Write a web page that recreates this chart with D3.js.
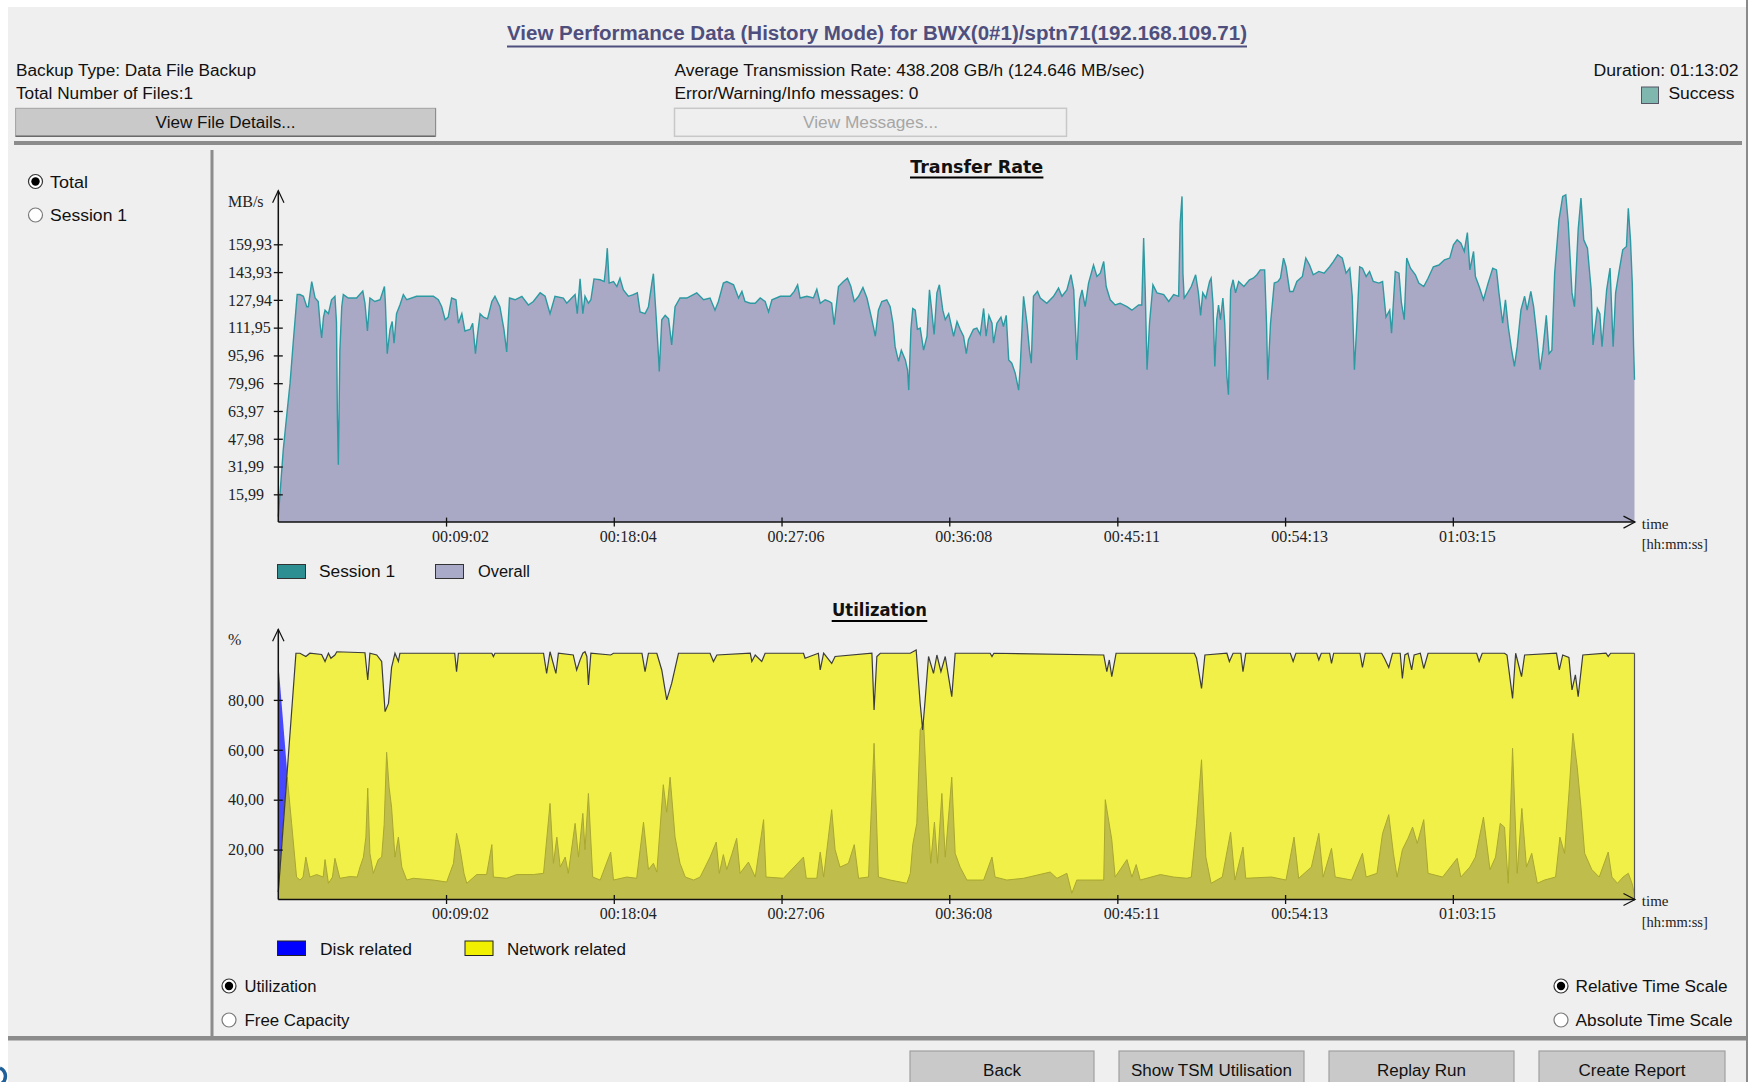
<!DOCTYPE html>
<html><head><meta charset="utf-8">
<script src="https://cdn.jsdelivr.net/npm/d3@7"></script>
<style>
body{margin:0;background:#fff;}
svg{display:block;font-family:"Liberation Sans",Arial,sans-serif;}
</style>
</head><body><svg id="c" width="1751" height="1082"></svg>
<script>
// ---------------- DATA ----------------
const durationSec = 4382; // 01:13:02
const xTickSeconds = [542, 1084, 1626, 2168, 2711, 3253, 3795];
const xTickLabels = ["00:09:02","00:18:04","00:27:06","00:36:08","00:45:11","00:54:13","01:03:15"];
const rateTicks = [15.99,31.99,47.98,63.97,79.96,95.96,111.95,127.94,143.93,159.93];
const rateTickLabels = ["15,99","31,99","47,98","63,97","79,96","95,96","111,95","127,94","143,93","159,93"];
const utilTicks = [20,40,60,80];
const utilTickLabels = ["20,00","40,00","60,00","80,00"];

// Transfer rate, MB/s  [seconds, value]  (Session 1 == Overall)
const transferRate = [
[0,3],[5,15],[16,41.6],[27,61],[38,80],[48,103],[54,116],[61,131],[70,131],[81,130],[92,124],[97,124],[108,138.5],[119,129],[129,127],[135,114],[140,106],[146,118],[151,122],[162,120],[172,128],[183,130],[188,115],[191,60],[194,33],[199,99],[205,124],[210,131],[226,129],[253,129],[273,133],[280,126],[288,110],[296,129],[312,127],[329,128],[343,135.6],[346,126],[352,97],[361,111],[368,115.5],[374,103],[382,120],[393,125],[404,131],[415,128],[447,130],[501,130],[517,128],[528,124],[539,116.5],[549,118],[560,129],[574,128],[582,114.5],[593,120],[603,110],[620,111],[628,114.5],[637,97],[643,107],[652,120],[663,118],[676,117],[690,127],[700,130],[716,124],[729,111],[738,98],[747,129],[765,128],[787,130],[808,125],[824,127],[846,132],[862,130],[878,120],[894,130],[921,129],[932,126],[948,129],[959,131],[966,120],[975,140],[984,120],[991,130],[1002,126],[1010,128],[1020,140],[1040,139.5],[1053,138.5],[1059,148],[1063,157.7],[1069,137.6],[1083,138.5],[1094,135.6],[1104,140.4],[1115,133.7],[1131,130],[1147,131],[1160,132],[1169,121],[1185,120],[1196,124],[1207,137.6],[1212,143],[1221,118],[1228,97],[1231,86.7],[1239,116.5],[1250,119],[1261,117],[1271,102],[1282,124],[1298,129],[1320,129],
[1352,132],[1374,128],[1395,129],[1411,122],[1422,127],[1438,137.6],[1449,138.5],[1471,136.6],[1487,129],[1498,132.8],[1508,127],[1525,126],[1541,126],[1557,129],[1573,127],[1584,121],[1595,128],[1622,130],[1654,130],[1667,132.8],[1678,136.6],[1686,129],[1708,130],[1729,129],[1740,134],[1751,126],[1767,128],[1781,127],[1788,126],[1796,113.6],[1810,135.6],[1826,138.5],[1839,140.4],[1850,135.6],[1861,127],[1875,130],[1889,135],[1902,129],[1918,116.5],[1929,107],[1939,122],[1950,127],[1966,128],[1977,124],[1986,114.5],[1993,101],[2004,92.5],[2013,99],[2026,93.4],[2033,87.7],[2037,76],[2044,111],[2050,123],[2058,122],[2065,111],[2074,111.7],[2085,99],[2096,107],[2104,133.7],[2110,124],[2119,108],[2128,132],[2136,136.6],[2147,122],[2155,116.5],[2166,120],[2182,107],[2193,115.5],[2203,111],[2214,107],[2223,97],[2230,105],[2246,111],[2257,111.7],[2268,108],[2279,123],[2287,107],[2296,119],[2306,114.5],[2311,103],[2322,114.5],[2335,118],[2343,112.6],[2352,119],[2360,93.4],[2370,91.5],[2381,85.8],[2392,76],[2397,88.6],[2408,130],[2419,114.5],[2427,99],[2433,91.5],[2440,130],[2453,132.8],[2462,129],[2483,126],[2505,130],[2521,134.7],[2532,130],[2548,133.7],[2561,142.4],[2570,133.7],[2580,93.4],[2589,128],[2597,133.7],[2607,124],[2618,137.6],[2634,148],[2645,141.4],[2656,143.3],[2667,150],[2675,135.6],[2688,128],[2704,125],[2720,126],[2742,124],[2758,122],[2780,125],[2790,125],[2796,163.5],[2801,133.7],[2807,87.7],[2815,114.5],[2826,136.6],[2839,132],[2861,131],[2877,127],[2893,131],[2909,130],[2914,172],[2920,187.5],[2923,143],[2927,129],
[2938,132],[2950,135.6],[2964,142.4],[2973,132],[2980,119],[2987,132],[2997,129],[3009,138.5],[3014,140.4],[3020,126],[3026,89.6],[3032,116.5],[3038,125],[3044,116.5],[3052,129],[3058,114.5],[3065,83.8],[3070,73.3],[3077,133.7],[3085,139.5],[3093,132],[3103,138.5],[3120,135.6],[3138,139.5],[3150,140.4],[3162,142.4],[3173,145.2],[3187,145.2],[3193,114.5],[3197,81.9],[3206,114.5],[3218,137.6],[3230,138.5],[3238,140.4],[3248,152],[3256,147],[3268,132.8],[3279,132.8],[3291,138.5],[3309,141.4],[3320,152],[3332,148],[3344,142.4],[3362,144.3],[3379,143.3],[3397,147],[3409,150],[3423,153.9],[3438,152],[3450,143.3],[3462,146.2],[3470,130],[3477,87.7],[3485,114.5],[3494,147],[3503,146.2],[3515,141.4],[3526,144.3],[3538,138.5],[3556,137.6],[3568,138.5],[3579,118],[3591,122],[3597,108.8],[3609,144.3],[3621,143.3],[3629,126],[3638,116.5],[3646,152],[3658,146.2],[3674,142.4],[3685,137.6],[3701,135.6],[3715,140.4],[3732,147],[3750,148],[3768,151],[3785,152],[3797,159.6],[3809,162.5],[3821,160.6],[3832,155.8],[3842,166.7],[3850,145.2],[3862,155.8],[3868,141.4],[3880,135.6],[3894,128],[3909,137.6],[3924,146.2],[3936,145.2],[3944,132],[3956,114.5],[3965,128],[3974,112.6],[3985,99],[3994,89.6],[4003,101],[4015,122],[4027,130],[4035,122],[4047,132.8],[4056,124],[4068,105],[4077,87.7],[4086,99],[4097,119],[4106,97],[4115,99],[4124,143.3],[4138,174],[4150,187.5],[4160,188.4],[4168,172],[4180,132],[4188,124],[4200,168.3],[4209,186.5],[4218,162.5],[4230,157.7],[4242,133.7],[4248,102],[4262,123],[4270,120],[4277,101],[4292,133.7],[4303,146.2],[4313,101],[4321,132],[4333,145.2],[4344,156.8],[4356,158.7],[4362,180.7],[4369,162.5],[4375,136.6],[4379,101],[4382,82]
];

// Utilization, %  [seconds, value]
const diskRelated = [[0,95],[28,52],[31,0]];
const networkRelated = [
[0,3],[28,50],[57,98.7],[70,98.7],[89,97.4],[102,98.7],[140,98.2],[151,95.4],[162,98.7],[170,96.7],[183,98],[189,99.3],[280,98.9],[289,88],[296,98.7],[318,98],[334,95.4],[345,75.3],[356,78.6],[366,93],[377,98.7],[388,95.4],[393,98.7],[570,98.7],[576,91.3],[582,98.7],[690,98.7],[695,97.4],[700,98.7],[857,98.7],[867,90.6],[878,99.3],[897,90.6],[905,98.7],[953,98],[964,92],[975,96],[984,98.7],[991,99.3],[997,97.4],[1002,86],[1010,98.7],[1074,98],[1083,98.7],[1175,98.7],[1185,91.3],[1196,98.7],[1223,98.7],[1239,92],[1255,80],[1271,86.6],[1293,98.7],[1395,98.7],[1406,95.4],[1417,98],[1525,98.7],[1530,95.4],[1541,98],[1562,95.4],[1573,98.7],[1697,98.7],[1702,96.7],[1745,98.7],[1751,92],[1762,98.7],[1788,94.6],[1799,97.4],[1918,98.7],[1925,76],[1934,97.4],[1945,98.7],[2042,98.7],[2061,100],[2074,78.6],[2082,68],[2090,80],[2101,97.4],[2117,90.6],[2128,98],[2141,91.3],[2155,97.4],[2176,81.3],[2187,98.7],[2300,98.7],[2306,97.4],[2312,98.7],[2667,98],[2677,91.3],[2685,96],[2693,89.3],[2707,98.7],[2960,98.7],[2967,96.7],[2983,84.6],[2994,98],[3065,98.7],[3073,95.4],[3085,98.7],[3110,98.7],[3117,91.3],[3126,98.7],[3270,98.7],[3279,95.4],[3288,98.7],[3355,98.7],[3362,96],[3370,98.7],[3397,98.7],[3403,94.6],[3410,98.7],[3495,98.7],[3503,93],[3512,98.7],[3565,98.7],[3574,96.7],[3588,93],[3600,98.7],[3625,98.7],[3632,88.6],[3640,98],[3650,98.7],[3662,92],[3670,98],[3690,98.7],[3701,92.6],[3715,98.7],[3872,98.7],[3880,95.4],[3890,98.7],[3962,98.7],[3970,98],[3988,80.6],[3998,98.7],[4017,89.3],[4027,98],[4130,98.7],[4139,92],[4150,98],[4170,97],[4180,84],[4191,90],[4200,81.3],[4215,98],[4290,98.7],[4297,97.4],[4305,98.7],[4382,98.7]
];
// darker lower band inside the network area
const lowerBand = [
[0,3],[29,49],[43,30.5],[59,9],[70,7.8],[80,9],[89,17],[102,9],[124,10],[145,9],[151,16],[162,6.5],[175,9],[183,16.5],[199,8.5],[232,9.2],[255,9],[264,13],[275,17],[283,25],[289,44.6],[296,18.5],[307,10.5],[323,16],[334,17],[342,30],[350,59],[358,45],[366,37],[377,17],[388,25],[399,13],[415,7.8],[436,8.5],[501,7.8],[544,7],[566,14.5],[576,26.5],[587,20.5],[600,10.5],[609,6.5],[641,10],[673,10],[690,22],[695,9],[738,8.5],[770,10],[824,10],[857,10.5],[878,38.5],[889,14.5],[900,25],[911,13],[927,17],[937,10.5],[959,30.5],[970,17],[984,34.5],[991,20],[1002,42.5],[1016,9],[1040,7.8],[1074,19],[1083,7.8],[1126,9],[1158,8.5],[1180,31],[1196,12],[1212,14.5],[1223,11],[1244,46],[1255,35],[1266,49],[1282,25],[1298,14.5],[1315,9],[1342,7.8],[1363,9],[1395,17],[1415,23],[1425,10.5],[1438,18],[1449,12],[1465,18],[1481,24.5],[1492,10.5],[1519,15],[1541,9],[1568,32],[1576,9],[1632,8.5],[1697,17],[1706,8.5],[1740,8.5],[1751,19],[1762,9],[1788,36],[1799,20],[1815,13],[1842,14.5],[1861,22],[1875,8.5],[1907,9],[1925,62.6],[1939,9],[1977,7.8],[2031,6.5],[2042,10.5],[2050,22],[2063,30.5],[2074,68],[2085,70.6],[2098,37],[2108,14.5],[2120,31],[2130,14.5],[2144,42.5],[2155,17],[2176,49],[2187,18.5],[2203,13],[2225,7.8],[2279,7.8],[2306,17],[2316,9],[2354,7.8],[2408,8.5],[2494,11],[2516,8.5],[2548,10.5],[2564,2.5],[2580,7.8],[2667,7.8],[2672,40],[2693,24],[2704,9],[2742,16],[2758,9],[2772,14],[2785,7.8],[2850,10],[2893,9],[2936,8.5],[2950,9],[2967,30.5],[2983,56],[2997,17],[3014,6.5],[3050,9],[3077,27],[3091,7.8],[3117,21],[3126,8.5],[3209,9],[3256,7.8],[3282,25],[3297,8.5],[3338,13],[3362,26.5],[3376,9],[3403,20.5],[3415,9],[3468,7.8],[3503,18.5],[3515,9],[3550,10.5],[3568,26.5],[3588,34],[3603,18.5],[3615,9],[3632,20],[3650,24.5],[3665,29],[3680,22.5],[3701,32],[3715,10.5],[3762,9],[3809,16.5],[3821,9],[3850,13],[3868,17],[3894,33],[3915,12],[3933,17],[3948,30.5],[3962,29],[3974,6.5],[3988,60.6],[4003,10.5],[4018,36.5],[4033,13],[4050,18.5],[4068,6.5],[4091,7.8],[4127,9],[4141,25],[4156,18.5],[4171,44],[4183,66.6],[4197,53],[4209,37],[4221,18.5],[4244,12],[4268,9],[4297,19],[4309,9],[4327,6.5],[4345,9],[4362,10.5],[4374,6.5],[4382,2]
];

// ---------------- DRAW ----------------
const svg = d3.select('#c');
const BG = '#efefef';
svg.append('rect').attr('x',8).attr('y',7).attr('width',1738).attr('height',1075).attr('fill',BG);
svg.append('line').attr('x1',1747).attr('x2',1747).attr('y1',0).attr('y2',1082).attr('stroke','#8a8a8a').attr('stroke-width',2);

function txt(x,y,s,opt={}){
  const t = svg.append('text').attr('x',x).attr('y',y).text(s)
    .attr('font-size',opt.size||16).attr('fill',opt.fill||'#111')
    .attr('text-anchor',opt.anchor||'start');
  if(opt.weight) t.attr('font-weight',opt.weight);
  if(opt.family) t.attr('font-family',opt.family);
  if(opt.len) t.attr('textLength',opt.len).attr('lengthAdjust','spacingAndGlyphs');
  return t;
}
function radio(cx,cy,sel){
  svg.append('circle').attr('cx',cx).attr('cy',cy).attr('r',7).attr('fill','#fff')
    .attr('stroke',sel?'#333':'#7a7a7a').attr('stroke-width',1.2);
  if(sel) svg.append('circle').attr('cx',cx).attr('cy',cy).attr('r',4.2).attr('fill','#000');
}
function button(x,y,w,h,label,len,disabled){
  if(disabled){
    svg.append('rect').attr('x',x).attr('y',y).attr('width',w).attr('height',h)
      .attr('fill',BG).attr('stroke','#c8c8c8').attr('stroke-width',1.5);
  } else {
    svg.append('rect').attr('x',x).attr('y',y).attr('width',w).attr('height',h)
      .attr('fill','#c9c9c9').attr('stroke','#a2a2a2').attr('stroke-width',1);
    svg.append('line').attr('x1',x).attr('x2',x+w).attr('y1',y+h).attr('y2',y+h).attr('stroke','#6a6a6a').attr('stroke-width',1.5);
    svg.append('line').attr('x1',x+w).attr('x2',x+w).attr('y1',y).attr('y2',y+h).attr('stroke','#8a8a8a').attr('stroke-width',1);
  }
  txt(x+w/2, y+20, label, {anchor:'middle', len:len, fill: disabled?'#a6a6a6':'#111'});
}

// Title
txt(877, 40, 'View Performance Data (History Mode) for BWX(0#1)/sptn71(192.168.109.71)',
  {anchor:'middle', size:20, weight:'bold', fill:'#4f4f7e', len:740});
svg.append('line').attr('x1',507).attr('x2',1247).attr('y1',46.5).attr('y2',46.5).attr('stroke','#4f4f7e').attr('stroke-width',2);

// Header info
txt(16,75.5,'Backup Type:  Data File Backup',{len:240});
txt(16,98.5,'Total Number of Files:1',{len:177});
txt(674.5,75.5,'Average Transmission Rate:  438.208 GB/h (124.646 MB/sec)',{len:470});
txt(674.5,98.5,'Error/Warning/Info messages: 0',{len:244});
txt(1738.6,75.5,'Duration:  01:13:02',{anchor:'end',len:145});
svg.append('rect').attr('x',1641.5).attr('y',87).attr('width',17).attr('height',16.5).attr('fill','#7fb6ae').attr('stroke','#556').attr('stroke-width',1);
txt(1668.4,99,'Success',{len:66});
button(15.6,108.3,420,28,'View File Details...',140,false);
button(674.5,108.3,392,28,'View Messages...',135,true);

// separators
svg.append('rect').attr('x',14).attr('y',141).attr('width',1728).attr('height',4).attr('fill','#8c8c8c');
svg.append('rect').attr('x',210.5).attr('y',150).attr('width',3).attr('height',887).attr('fill','#8c8c8c');
svg.append('rect').attr('x',8).attr('y',1036).attr('width',1738).attr('height',4.5).attr('fill','#8c8c8c');

// left radios
radio(35.5,181.5,true); txt(50,187.5,'Total',{len:38});
radio(35.5,215,false); txt(50,221,'Session 1',{len:77});

// ---------- scales ----------
const x = d3.scaleLinear().domain([0,durationSec]).range([278.3,1634.5]);
const yRate = d3.scaleLinear().domain([0,159.93]).range([522.1,244.3]);
const yUtil = d3.scaleLinear().domain([0,100]).range([899.5,650]);

// ---------- Transfer Rate chart ----------
txt(976.7,172.5,'Transfer Rate',{anchor:'middle',size:18,weight:'bold',family:'"DejaVu Sans",sans-serif',len:133});
svg.append('line').attr('x1',910).attr('x2',1043.4).attr('y1',177.5).attr('y2',177.5).attr('stroke','#000').attr('stroke-width',2);

const areaRate = d3.area().x(d=>x(d[0])).y0(yRate(0)).y1(d=>yRate(d[1]));
const lineRate = d3.line().x(d=>x(d[0])).y(d=>yRate(d[1]));
svg.append('path').datum(transferRate).attr('d',areaRate).attr('fill','#a9a9c5');
svg.append('path').datum(transferRate).attr('d',lineRate).attr('fill','none').attr('stroke','#2b9aa2').attr('stroke-width',1.4);

function drawAxes(yScale, ticks, labels, unit, unitY, topY){
  const x0 = x(0), yb = yScale(0);
  const gy = svg.append('g').attr('transform',`translate(${x0},0)`)
    .call(d3.axisLeft(yScale).tickValues(ticks).tickFormat((d,i)=>labels[i]).tickSize(0));
  gy.select('.domain').remove();
  gy.selectAll('.tick line').attr('x1',-4.5).attr('x2',4.5).attr('stroke','#111').attr('stroke-width',1.3);
  gy.selectAll('.tick text').attr('x',228-x0).attr('text-anchor','start').attr('dy','0.33em')
    .attr('font-family','"Liberation Serif","Times New Roman",serif').attr('font-size',16).attr('fill','#222');
  const gx = svg.append('g').attr('transform',`translate(0,${yb})`)
    .call(d3.axisBottom(x).tickValues(xTickSeconds).tickFormat((d,i)=>xTickLabels[i]).tickSize(0));
  gx.select('.domain').remove();
  gx.selectAll('.tick line').attr('y1',-4.5).attr('y2',4.5).attr('stroke','#111').attr('stroke-width',1.3);
  gx.selectAll('.tick text').attr('y',19.5).attr('dy',0).attr('dx',14)
    .attr('font-family','"Liberation Serif","Times New Roman",serif').attr('font-size',16).attr('fill','#222');
  // axis lines with arrows
  svg.append('line').attr('x1',x0).attr('x2',x0).attr('y1',yb).attr('y2',topY).attr('stroke','#111').attr('stroke-width',1.5);
  svg.append('path').attr('d',`M${x0-5.7},${topY+12}L${x0},${topY}L${x0+5.7},${topY+12}`).attr('fill','none').attr('stroke','#111').attr('stroke-width',1.2);
  const xe = x(durationSec)+0.5;
  svg.append('line').attr('x1',x0).attr('x2',xe).attr('y1',yb).attr('y2',yb).attr('stroke','#111').attr('stroke-width',1.5);
  svg.append('path').attr('d',`M${xe-11.5},${yb-6}L${xe},${yb}L${xe-11.5},${yb+6}`).attr('fill','none').attr('stroke','#111').attr('stroke-width',1.2);
  const serif = '"Liberation Serif","Times New Roman",serif';
  txt(1641.8,yb+6.5,'time',{family:serif,size:15,fill:'#222'});
  txt(1641.8,yb+27,'[hh:mm:ss]',{family:serif,size:15,fill:'#222',len:66});
  txt(228,unitY,unit,{family:serif,size:16,fill:'#222'});
}
drawAxes(yRate, rateTicks, rateTickLabels, 'MB/s', 206.5, 190.7);

// legend top
svg.append('rect').attr('x',277.5).attr('y',564.5).attr('width',28).attr('height',14).attr('fill','#2e8f93').attr('stroke','#333').attr('stroke-width',1);
txt(319,577,'Session 1',{len:76});
svg.append('rect').attr('x',435.5).attr('y',564.5).attr('width',28).attr('height',14).attr('fill','#a9a9c8').attr('stroke','#333').attr('stroke-width',1);
txt(478,577,'Overall',{len:52});

// ---------- Utilization chart ----------
txt(879.5,615.5,'Utilization',{anchor:'middle',size:18,weight:'bold',family:'"DejaVu Sans",sans-serif',len:95});
svg.append('line').attr('x1',831.7).attr('x2',927.3).attr('y1',621).attr('y2',621).attr('stroke','#000').attr('stroke-width',2);

const areaU = d3.area().x(d=>x(d[0])).y0(yUtil(0)).y1(d=>yUtil(d[1]));
const lineU = d3.line().x(d=>x(d[0])).y(d=>yUtil(d[1]));
svg.append('path').datum(diskRelated).attr('d',areaU).attr('fill','#4848ff');
svg.append('path').datum(networkRelated).attr('d',areaU).attr('fill','#f0f048');
svg.append('path').datum(lowerBand).attr('d',areaU).attr('fill','#bfbd4c');
svg.append('path').datum(lowerBand).attr('d',lineU).attr('fill','none').attr('stroke','#aaa82e').attr('stroke-width',1);
svg.append('path').datum(networkRelated).attr('d',lineU).attr('fill','none').attr('stroke','#3c3c3c').attr('stroke-width',1.2);
svg.append('line').attr('x1',x(durationSec)).attr('x2',x(durationSec))
  .attr('y1',yUtil(networkRelated[networkRelated.length-1][1])).attr('y2',yUtil(0)).attr('stroke','#555').attr('stroke-width',1.2);

drawAxes(yUtil, utilTicks, utilTickLabels, '%', 645, 629.3);

// legend bottom
svg.append('rect').attr('x',277.5).attr('y',941).attr('width',28).attr('height',14.5).attr('fill','#0000ff').attr('stroke','#222').attr('stroke-width',1);
txt(320,955,'Disk related',{len:92});
svg.append('rect').attr('x',465).attr('y',941).attr('width',28).attr('height',14.5).attr('fill','#f0f000').attr('stroke','#222').attr('stroke-width',1);
txt(507,955,'Network related',{len:119});

// bottom radios
radio(229,986,true); txt(244.5,992,'Utilization',{len:72});
radio(229,1020,false); txt(244.5,1026,'Free Capacity',{len:105});
radio(1561,986,true); txt(1575.6,992,'Relative Time Scale',{len:152});
radio(1561,1020,false); txt(1575.6,1026,'Absolute Time Scale',{len:157});

// bottom buttons
function bbutton(x0,x1,label,len){
  svg.append('rect').attr('x',x0).attr('y',1051).attr('width',x1-x0).attr('height',40)
    .attr('fill','#c9c9c9').attr('stroke','#a0a0a0').attr('stroke-width',1.2);
  txt((x0+x1)/2,1075.5,label,{anchor:'middle',len:len});
}
bbutton(910,1094,'Back',38);
bbutton(1119,1304,'Show TSM Utilisation',161);
bbutton(1329,1514,'Replay Run',89);
bbutton(1539,1725,'Create Report',107);

// partial logo at bottom-left
svg.append('path').attr('d','M0,1068 A9,9 0 0 1 1,1084').attr('fill','none').attr('stroke','#1f5f9a').attr('stroke-width',3.5);
</script></body></html>
